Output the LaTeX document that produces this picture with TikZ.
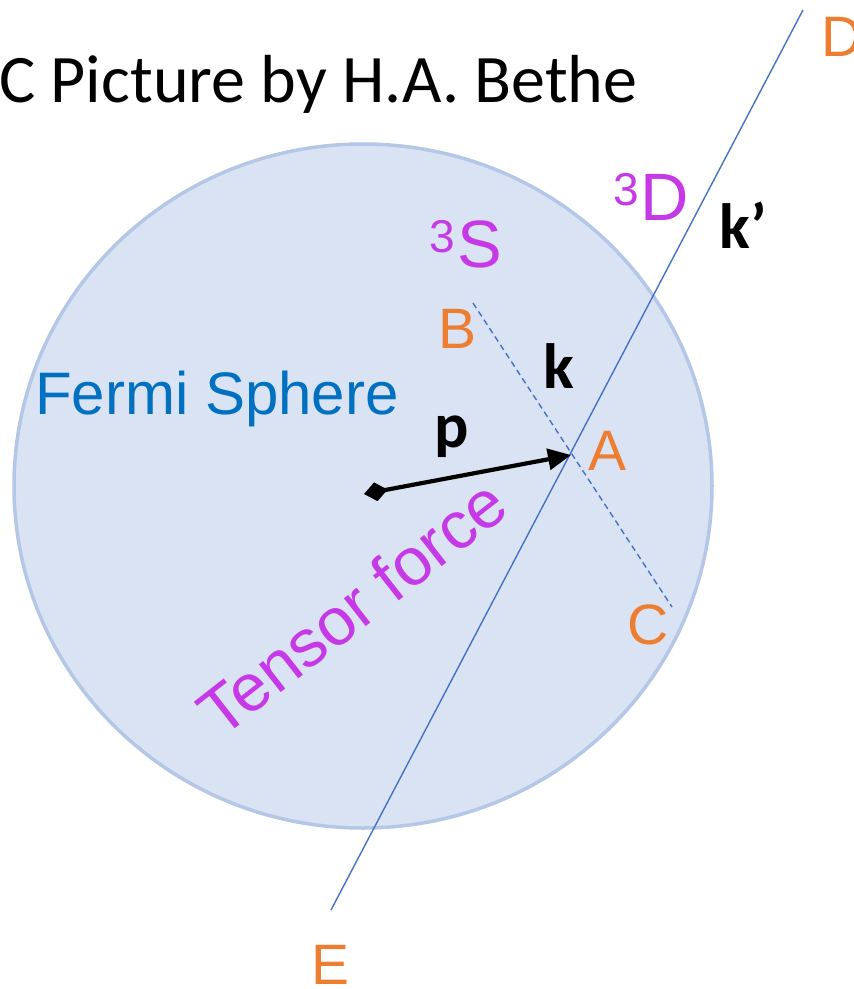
\documentclass[tikz,border=0pt]{standalone}
\usepackage{fontspec}
\setmainfont{Liberation Sans}
\newfontfamily\calib{Carlito}
\usetikzlibrary{arrows.meta}
\definecolor{sphfill}{HTML}{DAE3F3}
\definecolor{sphdraw}{HTML}{B4C7E7}
\definecolor{lineblue}{HTML}{4472C4}
\definecolor{lblorange}{HTML}{ED7D31}
\definecolor{fermiblue}{HTML}{0070C0}
\definecolor{tenspurple}{HTML}{C639E6}
\tikzset{
  ptlabel/.style={text=lblorange, inner sep=0pt, font=\fontsize{57}{60}\selectfont},
  vecl/.style={text=black, inner sep=0pt, font=\calib\bfseries\fontsize{64}{70}\selectfont},
  wavel/.style={text=tenspurple, inner sep=0pt, font=\fontsize{67}{70}\selectfont},
  thinline/.style={draw=lineblue, line width=1.4pt},
}
\newcommand{\supthree}{{\fontsize{46}{50}\selectfont\raisebox{15pt}{3}}\hspace{2pt}}
\begin{document}
\begin{tikzpicture}[x=1pt,y=-1pt]
\useasboundingbox (0,0) rectangle (854,989);
% Fermi sphere
\draw[fill=sphfill, draw=sphdraw, line width=3.5pt] (363,486) ellipse [x radius=349, y radius=342];
% title
\node[anchor=base west, inner sep=0pt, font=\calib\fontsize{68}{75}\selectfont] (title) at (-1,102) {C Picture by H.A. Bethe};
% coordinates
\coordinate (Dend) at (803,10);
\coordinate (Eend) at (331,910);
\coordinate (Bend) at (473,303);
\coordinate (Cend) at (672,607);
\coordinate (O) at (364,494);
\coordinate (Atip) at (571,455);
% lines
\draw[thinline] (Dend) -- (Eend);
\draw[thinline, dash pattern=on 6pt off 4pt] (Bend) -- (Cend);
\draw[line width=4.2pt, {Diamond[length=24pt,width=19pt]}-{Triangle[length=23pt,width=21pt]}] (O) -- (Atip);
% labels
\node[ptlabel] (A) at (608,451) {A};
\node[ptlabel] (B) at (458,329) {B};
\node[ptlabel] (C) at (648,625) {C};
\node[ptlabel, anchor=west] (D) at (821,37) {D};
\node[ptlabel] (E) at (331,965) {E};
\node[vecl] (p) at (452,437) {p};
\node[vecl] (k) at (559,366) {k};
\node[vecl] (kp) at (743,225) {k’};
\node[wavel] (S3) at (466,244) {\supthree S};
\node[wavel] (D3) at (651,197) {\supthree D};
\node[anchor=base west, inner sep=0pt, text=fermiblue, font=\fontsize{60}{64}\selectfont] (fermi) at (35,414) {Fermi Sphere};
\node[text=tenspurple, inner sep=0pt, rotate=38, font=\fontsize{67}{70}\selectfont] (tensor) at (352,607) {Tensor force};
\end{tikzpicture}
\end{document}
